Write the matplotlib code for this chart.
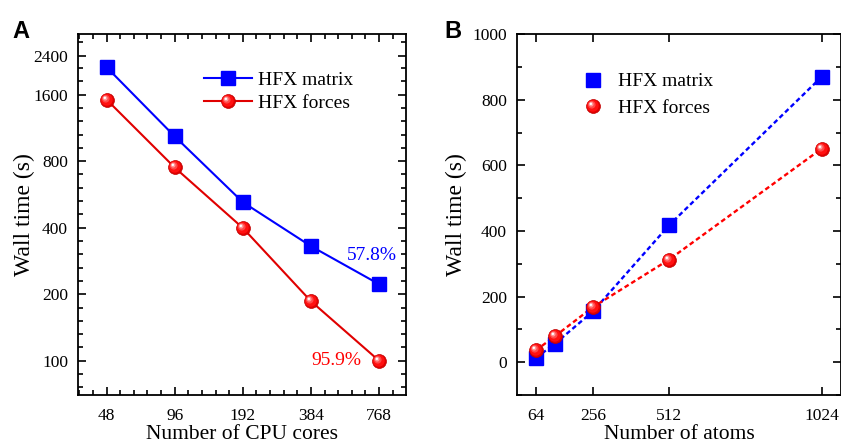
import numpy as np
import matplotlib
matplotlib.use('Agg')
import matplotlib.pyplot as plt
from matplotlib.path import Path
from matplotlib.markers import MarkerStyle
from matplotlib.legend_handler import HandlerTuple
from matplotlib.ticker import FixedLocator, NullFormatter

# Panel A: strong scaling
cores = [48, 96, 192, 384, 768]
a_matrix = [2130, 1036, 522, 330, 222]
a_forces = [1520, 749, 399, 186, 100]
a_yticks = [100, 200, 400, 800, 1600, 2400]
a_eff_matrix = '57.8%'
a_eff_forces = '95.9%'

# Panel B: system size scaling
atoms = [64, 128, 256, 512, 1024]
b_matrix = [13, 56, 155, 418, 870]
b_forces = [36, 79, 168, 313, 651]
b_xticks = [64, 256, 512, 1024]

plt.rcParams['font.family'] = ['Liberation Serif', 'DejaVu Serif']

BLUE = '#0000ff'
RED = '#ff0000'


def highlight_marker(cx, cy, r):
    # off-centre disc, scaled against a unit reference point so it
    # sits on top of the base circle marker of the same size
    c = Path.circle((cx, cy), r)
    verts = np.vstack([c.vertices, [[1.0, 0.0]]])
    codes = list(c.codes) + [Path.MOVETO]
    return MarkerStyle(Path(verts, codes))


# shading layers of the "sphere" marker: (centre x, centre y, radius, colour)
layers = [(-0.1, 0.1, 0.85, '#ff1010'),
          (-0.25, 0.25, 0.55, '#ff4a4a'),
          (-0.33, 0.33, 0.34, '#ff9a9a'),
          (-0.38, 0.38, 0.17, '#ffffff')]
hl_markers = [(highlight_marker(x, y, r), c) for x, y, r, c in layers]


def sphere(ax, x, y, ms, **kw):
    hs = [ax.plot(x, y, marker='o', ms=ms, color='#e00000', mec='#c00000',
                  mew=0.5, **kw)[0]]
    z = kw.get('zorder', 3)
    for m, c in hl_markers:
        hs.append(ax.plot(x, y, ls='none', marker=m, ms=ms, color=c, mew=0,
                          zorder=z)[0])
    return tuple(hs)


def style_axes(ax):
    for s in ax.spines.values():
        s.set_linewidth(1.3)
    ax.tick_params(which='both', direction='in', top=True, right=True,
                   labelsize=12.5, width=1.2, pad=7)
    ax.tick_params(axis='x', which='both', pad=9)
    ax.tick_params(which='major', length=6)
    ax.tick_params(which='minor', length=3.5)


fig = plt.figure(figsize=(8.41, 4.46), dpi=100)

# ---------------- A ----------------
axA = fig.add_axes([0.0924, 0.1143, 0.3904, 0.8088])
axA.set_xscale('log', base=2)
axA.set_yscale('log', base=2)
hM = axA.plot(cores, a_matrix, '-', color=BLUE, lw=1.5, marker='s', ms=10, zorder=3)[0]
hA = sphere(axA, cores, a_forces, 10, ls='-', lw=1.5, zorder=3)
axA.set_xlim(35.8, 1010)
axA.set_ylim(70, 3000)
axA.xaxis.set_major_locator(FixedLocator(cores))
axA.set_xticklabels([str(c) for c in cores])
xminor = [c * 2 ** (k / 5) for c in [24] + cores for k in range(1, 5)]
axA.xaxis.set_minor_locator(FixedLocator(xminor))
axA.xaxis.set_minor_formatter(NullFormatter())
axA.yaxis.set_major_locator(FixedLocator(a_yticks))
axA.set_yticklabels([str(v) for v in a_yticks])
yminor = [v * 2 ** (k / 5) for v in [50, 100, 200, 400, 800] for k in range(1, 5)]
yminor += [1840, 2110, 2780]
axA.yaxis.set_minor_locator(FixedLocator(yminor))
axA.yaxis.set_minor_formatter(NullFormatter())
style_axes(axA)
axA.set_xlabel('Number of CPU cores', fontsize=15.5, labelpad=1)
axA.set_ylabel('Wall time (s)', fontsize=17, labelpad=-1.5)
axA.annotate(a_eff_matrix, xy=(cores[-1], a_matrix[-1]), xytext=(18, 29),
             textcoords='offset pixels', ha='right', va='center',
             color=BLUE, fontsize=14)
axA.annotate(a_eff_forces, xy=(cores[-1], a_forces[-1]), xytext=(-18, 0),
             textcoords='offset pixels', ha='right', va='center',
             color=RED, fontsize=14)
axA.legend([hM, hA], ['HFX matrix', 'HFX forces'],
           handler_map={tuple: HandlerTuple(ndivide=1)},
           loc='upper left', bbox_to_anchor=(0.36, 0.92), frameon=False,
           fontsize=14, handlelength=2.5, handletextpad=0.3,
           labelspacing=0.3, borderaxespad=0)
fig.text(0.015, 0.915, 'A', fontsize=17, fontweight='bold',
         family='Liberation Sans')

# ---------------- B ----------------
axB = fig.add_axes([0.6144, 0.1143, 0.3858, 0.8088])
axB.plot(atoms, b_matrix, ls=(0, (2, 1.3)), color=BLUE, lw=1.7, zorder=2)
axB.plot(atoms, b_forces, ls=(0, (2, 1.3)), color=RED, lw=1.7, zorder=2)
hBM = axB.plot(atoms, b_matrix, ls='none', marker='s', ms=10, color=BLUE, zorder=3)[0]
hBF = sphere(axB, atoms, b_forces, 10, ls='none', zorder=4)
axB.set_xlim(0, 1090)
axB.set_ylim(-100, 1000)
axB.xaxis.set_major_locator(FixedLocator(b_xticks))
axB.set_xticklabels([str(v) for v in b_xticks])
axB.yaxis.set_major_locator(FixedLocator(range(0, 1001, 200)))
axB.yaxis.set_minor_locator(FixedLocator(range(-100, 1001, 100)))
style_axes(axB)
axB.set_xlabel('Number of atoms', fontsize=15.5, labelpad=1)
axB.set_ylabel('Wall time (s)', fontsize=17, labelpad=4)
axB.legend([hBM, hBF], ['HFX matrix', 'HFX forces'],
           handler_map={tuple: HandlerTuple(ndivide=1)},
           loc='upper left', bbox_to_anchor=(0.18, 0.915), frameon=False,
           fontsize=14, handlelength=1.0, handletextpad=0.8,
           labelspacing=0.45, borderaxespad=0, numpoints=1)
fig.text(0.528, 0.915, 'B', fontsize=17, fontweight='bold',
         family='Liberation Sans')

fig.savefig('out.png', dpi=100)
